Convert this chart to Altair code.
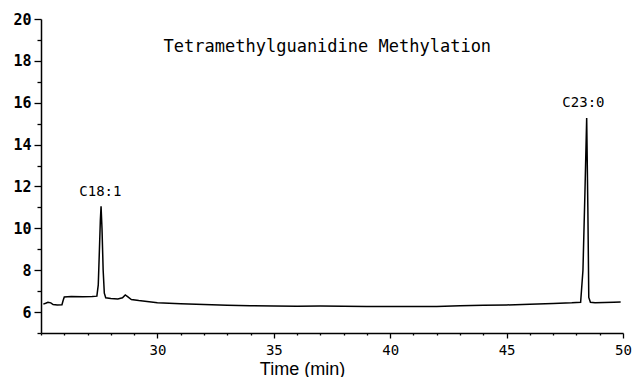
import altair as alt
import pandas as pd

# chromatogram trace
time_min = [25.1, 25.2, 25.3, 25.42, 25.52, 25.7, 25.9, 25.95, 26.0, 26.3, 26.8, 27.2, 27.4,
            27.46, 27.51, 27.55, 27.58, 27.62, 27.67, 27.72, 27.78, 28.0, 28.3, 28.5, 28.62,
            28.72, 28.88, 29.2, 30.0, 31.0, 32.0, 33.0, 34.0, 35.0, 36.0, 37.0, 38.0, 39.0,
            40.0, 41.0, 42.0, 43.0, 44.0, 45.0, 46.0, 47.0, 47.8, 48.18, 48.28, 48.36, 48.44,
            48.49, 48.53, 48.6, 48.8, 49.2, 49.6, 49.9]
signal = [6.38, 6.42, 6.47, 6.44, 6.36, 6.34, 6.35, 6.55, 6.72, 6.74, 6.73, 6.74, 6.76,
          7.3, 9.0, 10.4, 11.05, 10.0, 8.0, 6.9, 6.68, 6.65, 6.63, 6.68, 6.82,
          6.74, 6.6, 6.55, 6.45, 6.4, 6.36, 6.32, 6.3, 6.29, 6.28, 6.29, 6.28, 6.27,
          6.27, 6.27, 6.27, 6.3, 6.32, 6.34, 6.37, 6.41, 6.44, 6.47, 8.0, 11.5, 15.27,
          11.0, 6.7, 6.47, 6.45, 6.46, 6.47, 6.48]

# tick positions (every minute / every half unit)
x_ticks = [25, 26, 27, 28, 29, 30, 31, 32, 33, 34, 35, 36, 37, 38, 39, 40, 41, 42, 43,
           44, 45, 46, 47, 48, 49, 50]
y_ticks = [5, 5.5, 6, 6.5, 7, 7.5, 8, 8.5, 9, 9.5, 10, 10.5, 11, 11.5, 12, 12.5, 13, 13.5,
           14, 14.5, 15, 15.5, 16, 16.5, 17, 17.5, 18, 18.5, 19, 19.5, 20]

title_text = ["Tetramethylguanidine Methylation"]
title_x = [37.3]
title_y = [18.66]

peak_labels = ["C18:1", "C23:0"]
peak_x = [27.55, 48.3]
peak_y = [11.75, 16.0]

df = pd.DataFrame({"t": time_min, "s": signal})
tdf = pd.DataFrame({"label": title_text, "x": title_x, "y": title_y})
pdf = pd.DataFrame({"label": peak_labels, "x": peak_x, "y": peak_y})

xs = alt.Scale(domain=[25, 50], nice=False, zero=False)
ys = alt.Scale(domain=[5, 20], nice=False, zero=False)
MONO = "DejaVu Sans Mono"

x_test = "datum.value % 5 == 0 && datum.value > 25"
y_test = "datum.value % 2 == 0"

line = alt.Chart(df).mark_line(color="black", strokeWidth=1.5).encode(
    x=alt.X("t:Q", scale=xs, axis=alt.Axis(
        values=x_ticks, tickCount=200, format="d", title="Time (min)", orient="bottom",
        grid=False,
        labelExpr=f"({x_test}) ? datum.label : ''",
        tickSize={"condition": {"test": x_test, "value": 5}, "value": 2},
        tickWidth=1.3, tickColor="black", domainColor="black", domainWidth=1.5,
        labelFont=MONO, labelFontSize=14, labelColor="black", labelPadding=5,
        labelFlush=False, labelOverlap=False,
        titleFont="Liberation Sans", titleFontSize=18, titleFontWeight="normal",
        titleColor="black", titleX=261, titleY=41, titleBaseline="alphabetic",
        titleAnchor="start", titleAlign="center")),
    y=alt.Y("s:Q", scale=ys, axis=alt.Axis(
        values=y_ticks, tickCount=200, format="d", title=None, orient="left", grid=False,
        labelExpr=f"({y_test}) ? datum.label : ''",
        tickSize={"condition": {"test": y_test, "value": 7}, "value": 4},
        tickWidth=1.3, tickColor="black", domainColor="black", domainWidth=1.5,
        labelFont=MONO, labelFontSize=15, labelColor="black", labelPadding=3,
        labelFontWeight="bold", labelFlush=False, labelOverlap=False)),
)

title = alt.Chart(tdf).mark_text(font=MONO, fontSize=17, color="black").encode(
    x=alt.X("x:Q", scale=xs),
    y=alt.Y("y:Q", scale=ys),
    text="label:N",
)

peaks = alt.Chart(pdf).mark_text(font=MONO, fontSize=14, color="black").encode(
    x=alt.X("x:Q", scale=xs),
    y=alt.Y("y:Q", scale=ys),
    text="label:N",
)

chart = alt.layer(line, title, peaks).properties(
    width=582, height=314,
    autosize=alt.AutoSizeParams(type="none"),
    padding={"left": 41, "top": 19, "right": 11, "bottom": 44},
    background="white",
).configure_view(stroke=None)

chart.save("out.html", embed_options={"renderer": "svg", "actions": False})
